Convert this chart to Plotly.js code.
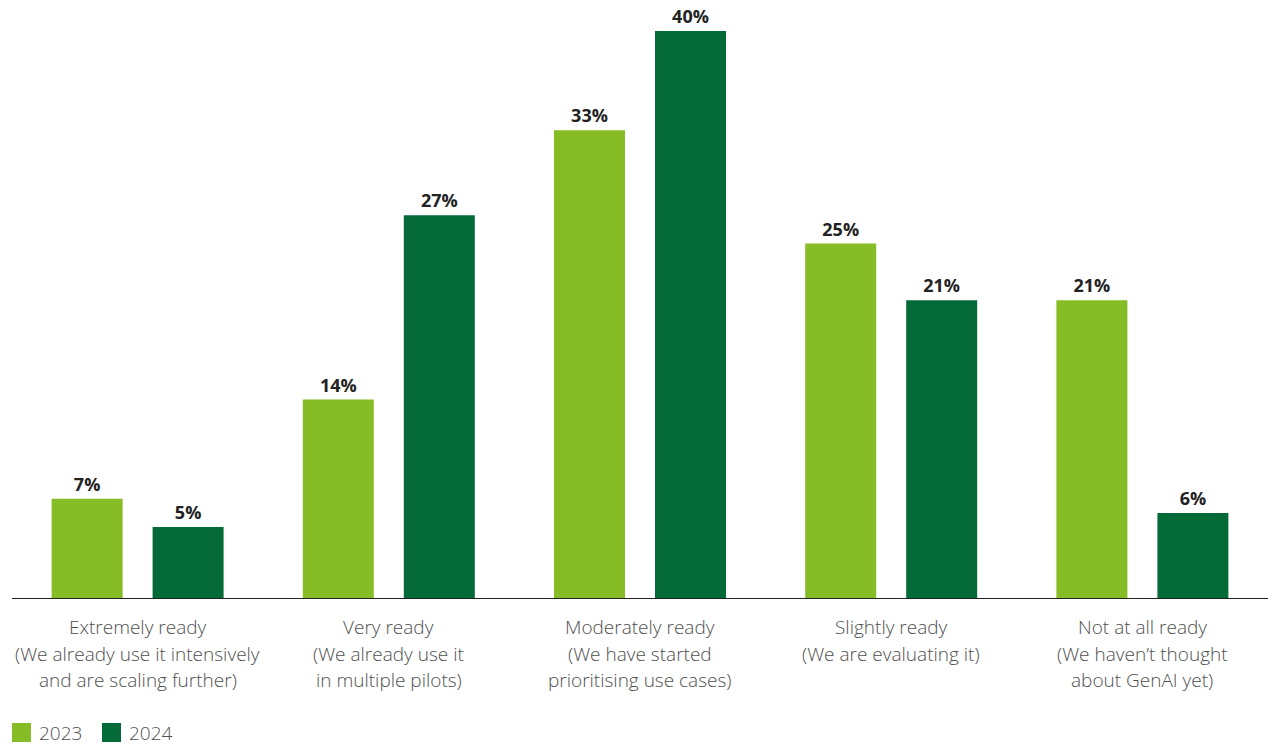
<!DOCTYPE html>
<html>
<head>
<meta charset="utf-8">
<script src="https://cdn.plot.ly/plotly-3.0.1.min.js"></script>
<style>html,body{margin:0;padding:0;background:#fff;}#chart{width:1276px;height:747px;}</style>
</head>
<body>
<div id="chart"></div>
<script>
const categories = ["Extremely ready", "Very ready", "Moderately ready", "Slightly ready", "Not at all ready"];
const categoryLabelLines = [
  ["Extremely ready", "(We already use it intensively", "and are scaling further)"],
  ["Very ready", "(We already use it", "in multiple pilots)"],
  ["Moderately ready", "(We have started", "prioritising use cases)"],
  ["Slightly ready", "(We are evaluating it)"],
  ["Not at all ready", "(We haven\u2019t thought", "about GenAI yet)"]
];
const seriesNames = ["2023", "2024"];
const values2023 = [7, 14, 33, 25, 21];
const values2024 = [5, 27, 40, 21, 6];
const seriesColors = ["#86BC25", "#046A38"];

const FONT = "'Open Sans', 'Noto Sans', sans-serif";
const PL = 12, PW = 1256, PB = 598, PH = 588;

function barTrace(name, vals, color) {
  return {
    type: "bar", name: name, x: categories, y: vals,
    marker: {color: color},
    text: vals.map(v => v + "%"), textposition: "outside",
    textfont: {family: FONT, size: 18, color: "#222222", weight: 700},
    cliponaxis: false, hoverinfo: "skip", showlegend: false
  };
}

const data = [
  barTrace(seriesNames[0], values2023, seriesColors[0]),
  barTrace(seriesNames[1], values2024, seriesColors[1])
];

const annotations = [];
const lineShifts = [-29, -56, -82];
categoryLabelLines.forEach((lines, i) => {
  lines.forEach((t, j) => {
    annotations.push({
      xref: "x", yref: "paper", x: categories[i], y: 0,
      yanchor: "middle", xanchor: "center", yshift: lineShifts[j],
      text: t, showarrow: false,
      font: {family: FONT, size: 19, color: "#505050", weight: 300}
    });
  });
});

// custom legend
const shapes = [];
const legendX = [12, 102];
seriesNames.forEach((n, i) => {
  shapes.push({type: "rect", xref: "paper", yref: "paper",
    x0: (legendX[i] - PL) / PW, x1: (legendX[i] + 19 - PL) / PW,
    y0: -(742 - PB) / PH, y1: -(723 - PB) / PH,
    fillcolor: seriesColors[i], line: {width: 0}});
  annotations.push({xref: "paper", yref: "paper",
    x: (legendX[i] + 25 - PL) / PW, y: -(733 - PB) / PH,
    xanchor: "left", yanchor: "middle", text: n, showarrow: false,
    font: {family: FONT, size: 19, color: "#505050", weight: 300}});
});

const layout = {
  width: 1276, height: 747,
  margin: {l: PL, r: 1276 - PL - PW, t: 747 - 149 - PH, b: 149},
  paper_bgcolor: "#ffffff", plot_bgcolor: "#ffffff",
  barmode: "group", bargap: 0.196, bargroupgap: 0.297,
  xaxis: {showticklabels: false, showline: true, linecolor: "#222222", linewidth: 1,
          showgrid: false, zeroline: false, ticks: ""},
  yaxis: {range: [0, 41.48], visible: false, showgrid: false, zeroline: false},
  showlegend: false,
  annotations: annotations,
  shapes: shapes
};

Plotly.newPlot("chart", data, layout, {displayModeBar: false, staticPlot: true});
</script>
</body>
</html>
